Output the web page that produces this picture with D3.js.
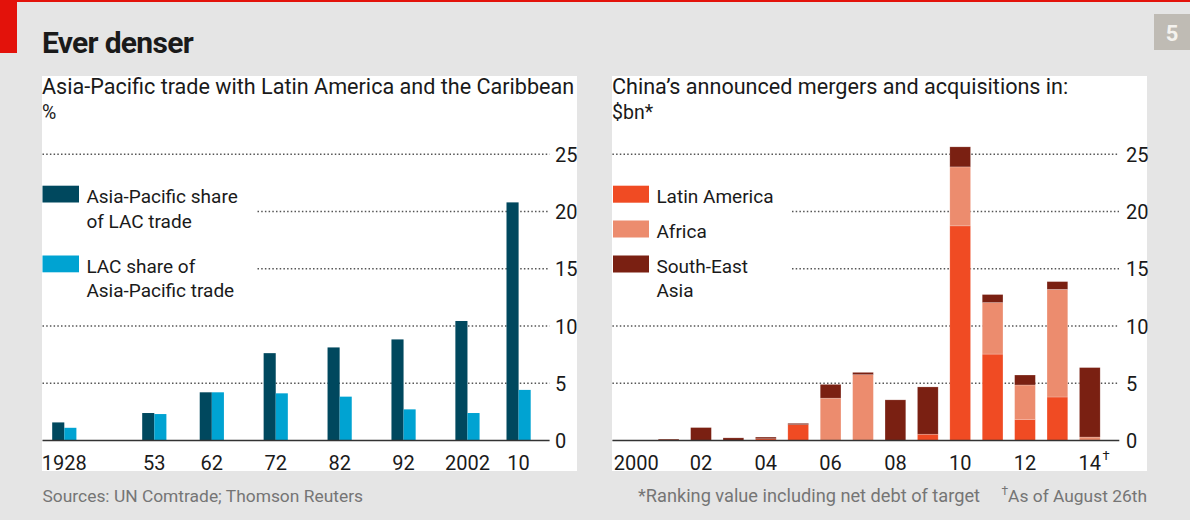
<!DOCTYPE html>
<html>
<head>
<meta charset="utf-8">
<script src="https://cdn.jsdelivr.net/npm/d3@7"></script>
<style>
  html, body { margin: 0; padding: 0; background: #e5e5e5; }
  svg { display: block; font-family: Roboto, "Noto Sans", sans-serif; }
</style>
</head>
<body>
<svg id="chart" width="1190" height="520"></svg>
<script>
// ---------- DATA ----------
const tradeYears = [1928, 1953, 1962, 1972, 1982, 1992, 2002, 2010];
const tradeLabels = ["1928", "53", "62", "72", "82", "92", "2002", "10"];
const asiaShareOfLAC = [1.58, 2.4, 4.21, 7.63, 8.13, 8.83, 10.44, 20.8];
const lacShareOfAsia = [1.11, 2.31, 4.21, 4.12, 3.83, 2.72, 2.4, 4.42];

const maYears = [2000, 2001, 2002, 2003, 2004, 2005, 2006, 2007, 2008, 2009, 2010, 2011, 2012, 2013, 2014];
const maLabels = ["2000", "", "02", "", "04", "", "06", "", "08", "", "10", "", "12", "", "14"];
const latinAmerica = [0, 0, 0, 0, 0.15, 1.38, 0, 0, 0, 0.55, 18.75, 7.55, 1.85, 3.8, 0];
const africa       = [0, 0, 0, 0, 0, 0, 3.7, 5.75, 0, 0, 5.15, 4.5, 3.0, 9.4, 0.3];
const seAsia       = [0, 0.12, 1.13, 0.23, 0.15, 0.12, 1.2, 0.2, 3.55, 4.13, 1.75, 0.7, 0.87, 0.68, 6.07];

const yTicks = [0, 5, 10, 15, 20, 25];

// ---------- STYLE ----------
const C = {
  bg: "#e5e5e5", red: "#e3120b", text: "#1a1a1a", grey: "#757575",
  teal: "#00485e", blue: "#00a3d2",
  latam: "#f04b23", africa: "#ec8c6e", sea: "#7a2012",
  box: "#bfbbb4"
};

const svg = d3.select("#chart");

// background + brand marks
svg.append("rect").attr("width", 1190).attr("height", 520).attr("fill", C.bg);
svg.append("rect").attr("x", 0).attr("y", 0).attr("width", 1190).attr("height", 2).attr("fill", C.red);
svg.append("rect").attr("x", 0).attr("y", 0).attr("width", 17).attr("height", 53).attr("fill", C.red);
svg.append("rect").attr("x", 1154).attr("y", 14).attr("width", 36).attr("height", 36).attr("fill", C.box);
svg.append("text").attr("x", 1172).attr("y", 41).attr("text-anchor", "middle")
  .attr("font-size", 22).attr("font-weight", 700).attr("fill", "#f4f2ee").text("5");

svg.append("text").attr("x", 42).attr("y", 53).attr("font-size", 30).attr("font-weight", 700)
  .attr("fill", C.text).attr("letter-spacing", -0.7).text("Ever denser");

// shared y scale
const y = d3.scaleLinear().domain([0, 25]).range([440.5, 154.3]);

function panel(x0, x1, title, unit) {
  svg.append("rect").attr("x", x0).attr("y", 76).attr("width", x1 - x0).attr("height", 395).attr("fill", "#fff");
  svg.append("text").attr("x", x0).attr("y", 94).attr("font-size", 21.6).attr("fill", C.text).text(title);
  svg.append("text").attr("x", x0).attr("y", 118.5).attr("font-size", 19.5).attr("fill", C.text).text(unit);
}

function grid(g, xFull, xShort, xEnd, labelX) {
  yTicks.forEach(t => {
    if (t === 0) return;
    const xs = (t === 20 || t === 15) ? xShort : xFull;
    g.append("line").attr("x1", xs).attr("x2", xEnd).attr("y1", y(t)).attr("y2", y(t))
      .attr("stroke", "#555").attr("stroke-width", 1.5).attr("stroke-dasharray", "1.5 2.2");
  });
  const ax = d3.axisRight(y).tickValues(yTicks).tickSize(0).tickPadding(0);
  const a = g.append("g").attr("transform", `translate(${labelX},0)`).call(ax);
  a.select(".domain").remove();
  a.selectAll("text").attr("font-size", 20).attr("fill", C.text).attr("font-family", "Roboto").attr("dy", "0.36em");
}

// ---------- LEFT PANEL ----------
panel(42, 577, "Asia-Pacific trade with Latin America and the Caribbean", "%");
const gL = svg.append("g");
grid(gL, 42.5, 257.5, 549.6, 555);

const xL = d3.scaleLinear()
  .domain([tradeYears[0], tradeYears[1], tradeYears[tradeYears.length - 1]])
  .range([64.3, 154.3, 518.6]);
const bwL = 12.1;

gL.selectAll("rect.dark").data(tradeYears).join("rect")
  .attr("x", d => xL(d) - bwL).attr("width", bwL)
  .attr("y", (d, i) => y(asiaShareOfLAC[i])).attr("height", (d, i) => y(0) - y(asiaShareOfLAC[i]))
  .attr("fill", C.teal);
gL.selectAll("rect.light").data(tradeYears).join("rect")
  .attr("x", d => xL(d)).attr("width", bwL)
  .attr("y", (d, i) => y(lacShareOfAsia[i])).attr("height", (d, i) => y(0) - y(lacShareOfAsia[i]))
  .attr("fill", C.blue);

gL.append("line").attr("x1", 42.5).attr("x2", 549.6).attr("y1", y(0)).attr("y2", y(0))
  .attr("stroke", "#333").attr("stroke-width", 1.6);

gL.selectAll("text.xl").data(tradeYears).join("text")
  .attr("x", d => xL(d)).attr("y", 469.5).attr("text-anchor", "middle")
  .attr("font-size", 20).attr("fill", C.text).text((d, i) => tradeLabels[i]);

// legend left
const legL = [
  { c: C.teal, y: 185.7, lines: ["Asia-Pacific share", "of LAC trade"] },
  { c: C.blue, y: 255.5, lines: ["LAC share of", "Asia-Pacific trade"] }
];
legL.forEach(l => {
  gL.append("rect").attr("x", 42.5).attr("y", l.y).attr("width", 36.5).attr("height", 16.8).attr("fill", l.c);
  l.lines.forEach((t, k) => gL.append("text").attr("x", 86.4).attr("y", l.y + 17 + k * 24.8)
    .attr("font-size", 19).attr("fill", C.text).text(t));
});

svg.append("text").attr("x", 42.5).attr("y", 501.5).attr("font-size", 17.4).attr("fill", C.grey)
  .text("Sources: UN Comtrade; Thomson Reuters");

// ---------- RIGHT PANEL ----------
panel(612, 1147, "China\u2019s announced mergers and acquisitions in:", "$bn*");
const gR = svg.append("g");
grid(gR, 612.4, 792, 1119, 1126);

const xR = d3.scaleBand().domain(maYears).range([620, 1106]).paddingInner(0.36).paddingOuter(0.18);
const seriesKeys = ["latinAmerica", "africa", "seAsia"];
const seriesColors = { latinAmerica: C.latam, africa: C.africa, seAsia: C.sea };
const table = maYears.map((yr, i) => ({ year: yr, latinAmerica: latinAmerica[i], africa: africa[i], seAsia: seAsia[i] }));
const stacked = d3.stack().keys(seriesKeys)(table);

gR.selectAll("g.series").data(stacked).join("g").attr("fill", d => seriesColors[d.key])
  .selectAll("rect").data(d => d.filter(p => p[1] - p[0] > 0)).join("rect")
  .attr("x", d => xR(d.data.year)).attr("width", xR.bandwidth())
  .attr("y", d => y(d[1])).attr("height", d => y(d[0]) - y(d[1]))
  .attr("stroke", "#fff").attr("stroke-opacity", 0.35).attr("stroke-width", 0.6);

gR.append("line").attr("x1", 612.4).attr("x2", 1119.3).attr("y1", y(0)).attr("y2", y(0))
  .attr("stroke", "#333").attr("stroke-width", 1.6);

maYears.forEach((yr, i) => {
  if (!maLabels[i]) return;
  const cx = xR(yr) + xR.bandwidth() / 2;
  const t = gR.append("text").attr("x", cx).attr("y", 469.5).attr("text-anchor", "middle")
    .attr("font-size", 20).attr("fill", C.text).text(maLabels[i]);
  if (i === maYears.length - 1) {
    const w = t.node().getComputedTextLength();
    gR.append("text").attr("x", cx + w / 2 + 1.5).attr("y", 460).attr("font-size", 13)
      .attr("fill", C.text).text("\u2020");
  }
});

const legR = [
  { c: C.latam, y: 185.7, lines: ["Latin America"] },
  { c: C.africa, y: 220.5, lines: ["Africa"] },
  { c: C.sea, y: 255.5, lines: ["South-East", "Asia"] }
];
legR.forEach(l => {
  gR.append("rect").attr("x", 613).attr("y", l.y).attr("width", 36).attr("height", 17).attr("fill", l.c);
  l.lines.forEach((t, k) => gR.append("text").attr("x", 656.4).attr("y", l.y + 17 + k * 24.5)
    .attr("font-size", 19).attr("fill", C.text).text(t));
});

svg.append("text").attr("x", 980).attr("y", 501.5).attr("text-anchor", "end")
  .attr("font-size", 18.2).attr("fill", C.grey).text("*Ranking value including net debt of target");
const fn2 = svg.append("text").attr("x", 1147).attr("y", 501.5).attr("text-anchor", "end")
  .attr("font-size", 17.4).attr("fill", C.grey);
fn2.append("tspan").attr("font-size", 12).attr("dy", -7).text("\u2020");
fn2.append("tspan").attr("dy", 7).text("As of August 26th");
</script>
</body>
</html>
